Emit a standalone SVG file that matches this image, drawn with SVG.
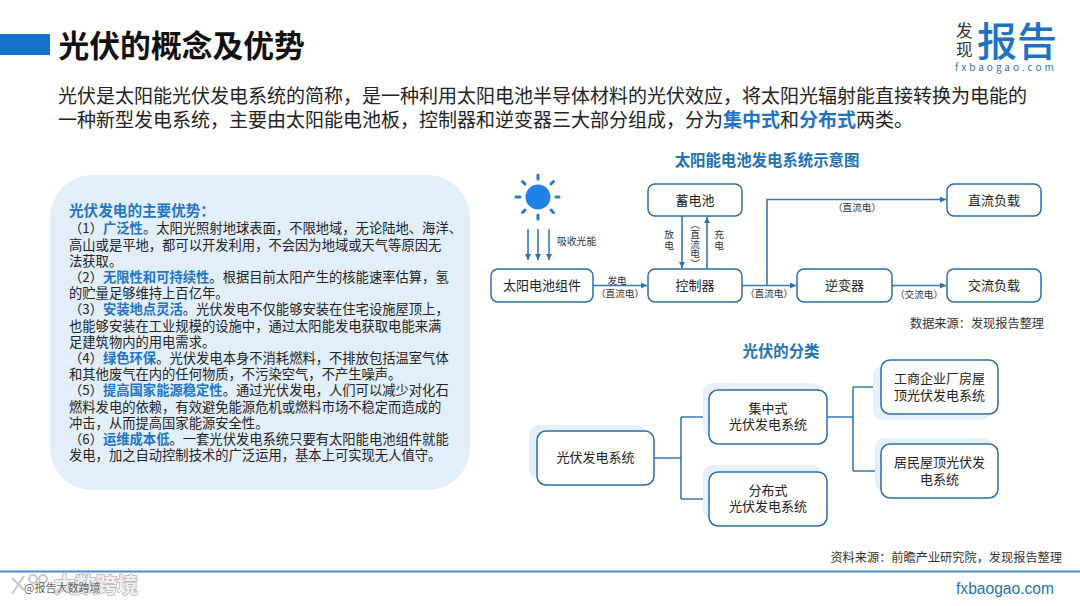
<svg xmlns="http://www.w3.org/2000/svg" width="1080" height="606" viewBox="0 0 1080 606">
<style>
text{font-family:"Noto Sans CJK SC","Noto Sans",sans-serif;fill:#222}
.p{font-size:13.3px}
.b{font-weight:700;fill:#2175c4}
.intro{font-size:19px}
.h{font-size:15.4px;font-weight:700;fill:#2272b4;text-anchor:middle}
.n{fill:#fff;stroke:#2e6da4;stroke-width:1.5}
.t{font-size:13px;text-anchor:middle}
.l{font-size:9.6px;text-anchor:middle;fill:#333}
.c{fill:none;stroke:#3a78ad;stroke-width:1.6}
.s{fill:#e6f0fa}
.r{stroke:#2c78bd;stroke-width:3;stroke-linecap:round}
</style>
<defs>
<marker id="a" markerWidth="7" markerHeight="7" refX="6" refY="3" orient="auto" markerUnits="userSpaceOnUse"><path d="M0 0L6 3L0 6Z" fill="#2e72ab"/></marker>
</defs>
<rect width="1080" height="606" fill="#fff"/>
<rect x="0" y="34" width="50" height="21" fill="#1672cc"/>
<text x="58.500" y="57" font-size="30.800" font-weight="700" style="fill:#111">光伏的概念及优势</text>
<g id="logo">
<text x="956" y="37" font-size="16.500" style="fill:#333">发</text>
<text x="956" y="56" font-size="16.500" style="fill:#333">现</text>
<text x="977" y="56" font-size="40" font-weight="500" style="fill:#1f72c0">报告</text>
<text x="955" y="71" font-size="10" letter-spacing="3" style="fill:#2a72b0">fxbaogao.com</text>
</g>
<text class="intro" x="58" y="103">光伏是太阳能光伏发电系统的简称&#xFF0C;是一种利用太阳电池半导体材料的光伏效应&#xFF0C;将太阳光辐射能直接转换为电能的</text>
<text class="intro" x="58" y="127">一种新型发电系统&#xFF0C;主要由太阳能电池板&#xFF0C;控制器和逆变器三大部分组成&#xFF0C;分为<tspan font-weight="700" style="fill:#1d72c4">集中式</tspan>和<tspan font-weight="700" style="fill:#1d72c4">分布式</tspan>两类。</text>

<g id="panel">
<rect x="50" y="175" width="420" height="315" rx="42" fill="#e3eefb"/>
<text x="69" y="216" font-weight="700" style="fill:#2175c4;font-size:14.600px">光伏发电的主要优势&#xFF1A;</text>
<text class="p" x="69" y="233">&#xFF08;1&#xFF09;<tspan class="b">广泛性</tspan>。太阳光照射地球表面&#xFF0C;不限地域&#xFF0C;无论陆地、海洋、</text>
<text class="p" x="69" y="250">高山或是平地&#xFF0C;都可以开发利用&#xFF0C;不会因为地域或天气等原因无</text>
<text class="p" x="69" y="266">法获取。</text>
<text class="p" x="69" y="282">&#xFF08;2&#xFF09;<tspan class="b">无限性和可持续性</tspan>。根据目前太阳产生的核能速率估算&#xFF0C;氢</text>
<text class="p" x="69" y="298">的贮量足够维持上百亿年。</text>
<text class="p" x="69" y="314">&#xFF08;3&#xFF09;<tspan class="b">安装地点灵活</tspan>。光伏发电不仅能够安装在住宅设施屋顶上&#xFF0C;</text>
<text class="p" x="69" y="331">也能够安装在工业规模的设施中&#xFF0C;通过太阳能发电获取电能来满</text>
<text class="p" x="69" y="347">足建筑物内的用电需求。</text>
<text class="p" x="69" y="363">&#xFF08;4&#xFF09;<tspan class="b">绿色环保</tspan>。光伏发电本身不消耗燃料&#xFF0C;不排放包括温室气体</text>
<text class="p" x="69" y="379">和其他废气在内的任何物质&#xFF0C;不污染空气&#xFF0C;不产生噪声。</text>
<text class="p" x="69" y="395">&#xFF08;5&#xFF09;<tspan class="b">提高国家能源稳定性</tspan>。通过光伏发电&#xFF0C;人们可以减少对化石</text>
<text class="p" x="69" y="412">燃料发电的依赖&#xFF0C;有效避免能源危机或燃料市场不稳定而造成的</text>
<text class="p" x="69" y="428">冲击&#xFF0C;从而提高国家能源安全性。</text>
<text class="p" x="69" y="444">&#xFF08;6&#xFF09;<tspan class="b">运维成本低</tspan>。一套光伏发电系统只要有太阳能电池组件就能</text>
<text class="p" x="69" y="460">发电&#xFF0C;加之自动控制技术的广泛运用&#xFF0C;基本上可实现无人值守。</text>
</g>

<text class="h" x="767" y="165.500">太阳能电池发电系统示意图</text>
<text class="h" x="781" y="357">光伏的分类</text>

<g id="sun">
<circle cx="538" cy="197" r="12.5" fill="#1f82e6"/>
<path class="r" d="M538 175V179M538 215V219M516 197H520M556 197H559M522.500 181.500L525 184M551 210L553.500 212.500M553.500 181.500L551 184M525 210L522.500 212.500"/>
</g>

<g id="connectors">
<path class="c" marker-end="url(#a)" d="M528 229V260"/>
<path class="c" marker-end="url(#a)" d="M538 229V260"/>
<path class="c" marker-end="url(#a)" d="M549 229V260"/>
<path class="c" marker-end="url(#a)" d="M593 285.500H647"/>
<path class="c" marker-end="url(#a)" d="M682 216V268"/>
<path class="c" marker-end="url(#a)" d="M707 269V217"/>
<path class="c" marker-end="url(#a)" d="M742 285.500H796"/>
<path class="c" marker-end="url(#a)" d="M767 285.500V199.500H946"/>
<path class="c" marker-end="url(#a)" d="M892 285.500H946"/>
<path class="c" d="M654 458H681M681 417V499M681 417H709M681 499H709"/>
<path class="c" d="M827 417H853M853 387V471M853 387H881M853 471H881"/>
</g>

<g id="labels">
<text x="557" y="245" font-size="9.800" style="fill:#333">吸收光能</text>
<text class="l" x="617" y="284">发电</text>
<text class="l" x="620" y="297">&#xFF08;直流电&#xFF09;</text>
<text class="l" x="769" y="297">&#xFF08;直流电&#xFF09;</text>
<text class="l" x="857" y="211">&#xFF08;直流电&#xFF09;</text>
<text class="l" x="919" y="298">&#xFF08;交流电&#xFF09;</text>
<text class="l" x="669" y="238">放</text>
<text class="l" x="669" y="249">电</text>
<text class="l" x="719" y="238">充</text>
<text class="l" x="719" y="249">电</text>
<text x="695" y="220" font-size="9.600" writing-mode="vertical-rl" text-anchor="start" style="fill:#333">&#xFF08;直流电&#xFF09;</text>
<text x="910" y="328" font-size="12.200" style="fill:#333">数据来源&#xFF1A;发现报告整理</text>
<text x="1062" y="562" font-size="12.200" text-anchor="end" style="fill:#333">资料来源&#xFF1A;前瞻产业研究院&#xFF0C;发现报告整理</text>
</g>

<g id="n1"><rect class="n" x="491" y="269" width="102" height="33" rx="7"/><text class="t" x="542" y="290">太阳电池组件</text></g>
<g id="n2"><rect class="n" x="648" y="184" width="94" height="32" rx="7"/><text class="t" x="695" y="205">蓄电池</text></g>
<g id="n3"><rect class="n" x="648" y="269" width="94" height="33" rx="7"/><text class="t" x="695" y="290">控制器</text></g>
<g id="n4"><rect class="n" x="797" y="269" width="95" height="33" rx="7"/><text class="t" x="844.500" y="290">逆变器</text></g>
<g id="n5"><rect class="n" x="947" y="184" width="94" height="32" rx="7"/><text class="t" x="994" y="205">直流负载</text></g>
<g id="n6"><rect class="n" x="947" y="269" width="94" height="33" rx="7"/><text class="t" x="994" y="290">交流负载</text></g>

<g id="c1"><rect class="s" x="529" y="425" width="117" height="54" rx="9"/><rect class="n" x="537" y="431" width="117" height="54" rx="9"/><text class="t" x="595.500" y="462">光伏发电系统</text></g>
<g id="c2"><rect class="s" x="703" y="383" width="118" height="54" rx="9"/><rect class="n" x="709" y="390" width="118" height="54" rx="9"/><text class="t" x="768" y="413">集中式</text><text class="t" x="768" y="429">光伏发电系统</text></g>
<g id="c3"><rect class="s" x="703" y="465" width="118" height="54" rx="9"/><rect class="n" x="709" y="472" width="118" height="54" rx="9"/><text class="t" x="768" y="495">分布式</text><text class="t" x="768" y="511">光伏发电系统</text></g>
<g id="c4"><rect class="s" x="873" y="366" width="118" height="54" rx="9"/><rect class="n" x="881" y="360" width="117" height="54" rx="9"/><text class="t" x="939.500" y="383">工商企业厂房屋</text><text class="t" x="939.500" y="400">顶光伏发电系统</text></g>
<g id="c5"><rect class="s" x="875" y="438" width="118" height="54" rx="9"/><rect class="n" x="881" y="444" width="117" height="54" rx="9"/><text class="t" x="939.500" y="467">居民屋顶光伏发</text><text class="t" x="939.500" y="484">电系统</text></g>

<g id="footer">
<rect x="0" y="570.500" width="1080" height="2" fill="#4a8ac8"/>
<text x="956" y="594" font-size="15.600" style="fill:#2a72b0;font-family:'Liberation Sans',sans-serif">fxbaogao.com</text>
<g fill="none" stroke="#c8c8c8" stroke-width="2"><circle cx="33" cy="579" r="4"/><circle cx="43" cy="579" r="4"/><path d="M12 578L24 590M24 576L12 594"/></g>
<text x="54" y="592" font-size="21" font-weight="700" stroke="#b4b4b4" stroke-width="1.500" paint-order="stroke" style="fill:#f0f0f0">大数跨境</text>
<text x="24" y="592" font-size="11" style="fill:#666">@报告大数跨境</text>
</g>
</svg>
